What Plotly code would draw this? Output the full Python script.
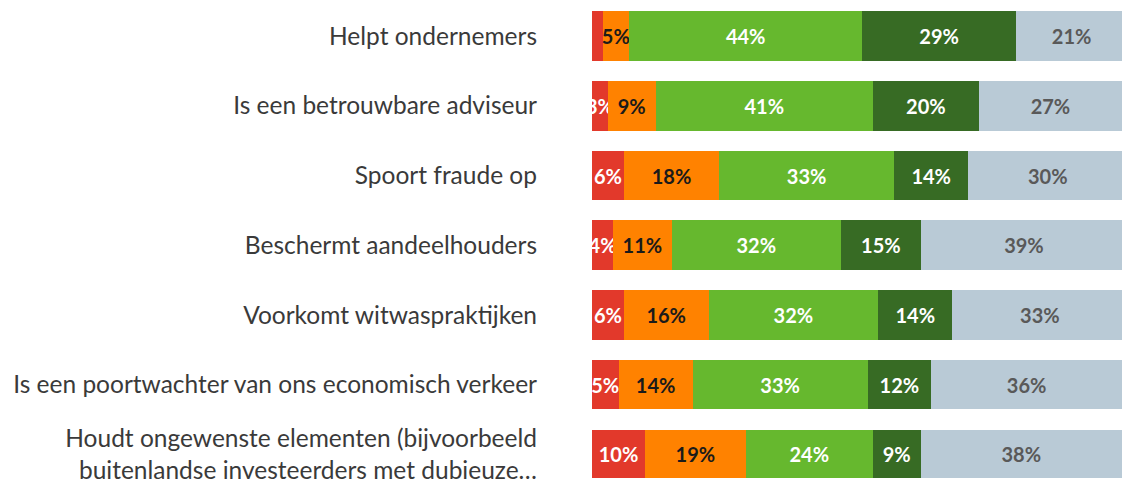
import plotly.graph_objects as go

categories = [
    "Helpt ondernemers",
    "Is een betrouwbare adviseur",
    "Spoort fraude op",
    "Beschermt aandeelhouders",
    "Voorkomt witwaspraktijken",
    "Is een poortwachter van ons economisch verkeer",
    "Houdt ongewenste elementen (bijvoorbeeld<br>buitenlandse investeerders met dubieuze…",
]
series_names = ["Helemaal oneens", "Oneens", "Eens", "Helemaal eens", "Weet niet"]
very_disagree = [2, 3, 6, 4, 6, 5, 10]
disagree = [5, 9, 18, 11, 16, 14, 19]
agree = [44, 41, 33, 32, 32, 33, 24]
strongly_agree = [29, 20, 14, 15, 14, 12, 9]
dont_know = [21, 27, 30, 39, 33, 36, 38]

colors = ["#E2392B", "#FF8200", "#66B82E", "#376B24", "#B9CAD6"]
text_colors = ["#FFFFFF", "#1A1A1A", "#FFFFFF", "#FFFFFF", "#595959"]

fig = go.Figure()
for name, vals, col, tcol in zip(series_names,
                                 [very_disagree, disagree, agree, strongly_agree, dont_know],
                                 colors, text_colors):
    fig.add_trace(go.Bar(
        y=categories, x=vals, orientation="h", name=name,
        marker=dict(color=col, line=dict(width=0)),
        text=[f"{v}%" if v >= 3 else "" for v in vals],
        textposition="inside", insidetextanchor="middle", textangle=0,
        textfont=dict(family="Lato", size=20, color=tcol, weight="bold"),
        cliponaxis=True,
    ))

fig.update_layout(
    barmode="stack", bargap=0.29,
    width=1122, height=484,
    margin=dict(l=592, r=0, t=0, b=0),
    paper_bgcolor="white", plot_bgcolor="white",
    showlegend=False,
    uniformtext=dict(minsize=20, mode="show"),
)
fig.update_xaxes(range=[0, 100], showgrid=False, zeroline=False, showticklabels=False, visible=False)
fig.update_yaxes(range=[6.338, -0.517], showgrid=False, zeroline=False, ticks="",
                 ticklabelstandoff=54,
                 tickfont=dict(family="Lato", size=24.5, color="#3A3A3A"))
fig.write_html(
    "out.html",
    config={"displayModeBar": False},
    post_script="document.documentElement.style.overflow='hidden';"
                "document.body.style.margin='0';document.body.style.overflow='hidden';",
)
